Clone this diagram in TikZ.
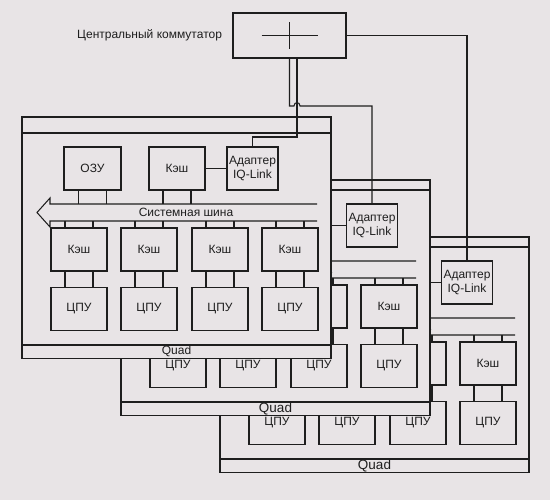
\documentclass[tikz,border=0pt]{standalone}
\usepackage{fontspec}
\setmainfont{Liberation Sans}
\usetikzlibrary{positioning}
\definecolor{paper}{HTML}{E8E4E6}
\definecolor{ink}{HTML}{1E1E1E}

\begin{document}
\begin{tikzpicture}[x=1pt, y=-1pt, line width=1.05pt, color=ink,
    font=\fontsize{12}{13.5}\selectfont,
    unit/.style={draw, fill=paper, minimum width=56pt, minimum height=43pt, inner sep=0pt, align=center},
    quadframe/.style={draw, fill=paper}]
  \fill[paper] (0,0) rectangle (550,500);
  \useasboundingbox (0,0) rectangle (550,500);

  % three quads, back to front
  \foreach \i/\dx/\dy/\top/\ax/\qs in {3/198/114/123/269/13.5, 2/99/57/123/273/13.5, 1/0/0/117/252.5/12} {
    \begin{scope}[shift={(\dx,\dy)}]
      \draw[quadframe] (22,\top) rectangle (331,358.5);
      \draw (22,133) -- (331,133);
      \draw (22,345) -- (331,345);
      \node[font=\fontsize{\qs}{\qs}\selectfont] (quad\i) at (176.5,351.5) {Quad};

      \node[unit, minimum width=57pt] (ram\i) at (92.5,168.5) {ОЗУ};
      \node[unit] (cache\i) at (177,168.5) {Кэш};
      \node[unit, minimum width=51pt] (adapter\i) at (\ax,168.5) {Адаптер\\IQ-Link};
      \draw (cache\i) -- (adapter\i);

      % system bus
      \draw (317,204) -- (50,204) -- (50,198) -- (37,212.5) -- (50,227) -- (50,221) -- (317,221);
      \node (bus\i) at (186,212.5) {Системная шина};
      \coordinate (bustop\i) at (50,204);
      \coordinate (busbot\i) at (50,221);

      \foreach \s in {-14,14} {
        \draw ([xshift=\s pt]ram\i.south) -- ([xshift=\s pt]ram\i.south |- bustop\i);
        \draw ([xshift=\s pt]cache\i.south) -- ([xshift=\s pt]cache\i.south |- bustop\i);
      }

      \foreach \j/\x in {1/79, 2/149, 3/220, 4/290} {
        \node[unit] (kesh\i-\j) at (\x,249.5) {Кэш};
        \node[unit] (cpu\i-\j) at (\x,309) {ЦПУ};
        \foreach \s in {-14,14} {
          \draw ([xshift=\s pt]kesh\i-\j.north) -- ([xshift=\s pt]kesh\i-\j.north |- busbot\i);
          \draw ([xshift=\s pt]kesh\i-\j.south) -- ([xshift=\s pt]cpu\i-\j.north);
        }
      }
    \end{scope}
  }

  % central switch
  \node[draw, fill=paper, minimum width=113pt, minimum height=45pt, inner sep=0pt] (switch) at (289.5,35.5) {};
  \draw ([xshift=-28pt]switch.center) -- ([xshift=28pt]switch.center);
  \draw ([yshift=-13.5pt]switch.center) -- ([yshift=13.5pt]switch.center);
  \node[inner sep=0pt, left=10pt of switch] (switchname) {Центральный коммутатор};

  % links to the adapters
  \coordinate (bend1) at (297,137);
  \draw ([xshift=7.5pt]switch.south) -- (bend1) -| (adapter1.north);
  \draw (switch.south) -- (289.5,106) -- (294,106) .. controls (294,101.5) and (300,101.5) .. (300,106) -| (adapter2.north);
  \draw (switch.east) -| (adapter3.north);
\end{tikzpicture}
\end{document}
